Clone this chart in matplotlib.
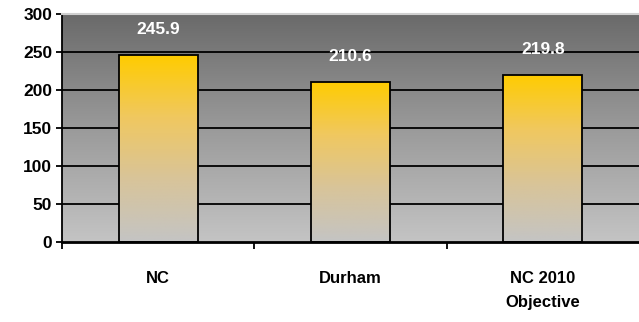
import numpy as np
import matplotlib.pyplot as plt
from matplotlib.colors import LinearSegmentedColormap

plt.rcParams['font.family'] = ['Liberation Sans', 'DejaVu Sans']
plt.rcParams['font.weight'] = 'bold'

# data
categories = ['NC', 'Durham', 'NC 2010\nObjective']
values = [245.9, 210.6, 219.8]
yticks = [0, 50, 100, 150, 200, 250, 300]

fig = plt.figure(figsize=(6.39, 3.22), dpi=100)
ax = fig.add_axes([0.097, 0.248, 0.903, 0.708])

x = np.arange(len(categories))
ax.set_xlim(-0.5, len(categories) - 0.5)
ax.set_ylim(0, 300)

# plot area gradient (dark top -> light bottom)
bg = LinearSegmentedColormap.from_list('bg', ['#c4c4c4', '#9a9a9a', '#6a6a6a'])
grad = np.linspace(0, 1, 256).reshape(-1, 1)
ax.imshow(grad, cmap=bg, aspect='auto', origin='lower',
          extent=[-0.5, len(categories) - 0.5, 0, 300], zorder=0)

# gridlines
for yv in yticks[1:-1]:
    ax.axhline(yv, color='black', lw=1.3, zorder=1)

# bars with gradient fill
bar_cmap = LinearSegmentedColormap.from_list('bar', ['#c4c4c4', '#d8c49a', '#f0c860', '#ffcc00'])
bars = ax.bar(x, values, width=0.41, facecolor='none', edgecolor='black', lw=1.3, zorder=3)
for b in bars:
    x0 = b.get_x()
    im = ax.imshow(grad, cmap=bar_cmap, aspect='auto', origin='lower',
                   extent=[x0, x0 + b.get_width(), 0, b.get_height()], zorder=2)
    im.set_clip_path(b)

# value labels
for xi, v in zip(x, values):
    ax.annotate(f'{v:.1f}', (xi, v), xytext=(0, 13), textcoords='offset points',
                ha='center', va='bottom', color='white', fontsize=12.5, fontweight='bold')

ax.set_yticks(yticks)
ax.set_yticklabels([str(t) for t in yticks], fontsize=12.5, fontweight='bold')
ax.tick_params(axis='y', direction='out', length=4, width=1.3, pad=3)

ax.set_xticks(x)
ax.set_xticklabels(categories, fontsize=12, fontweight='bold', linespacing=1.7)
ax.set_xticks([-0.5, 0.5, 1.5], minor=True)
ax.tick_params(axis='x', which='major', length=0, pad=21)
ax.tick_params(axis='x', which='minor', direction='out', length=5, width=1.3)

ax.spines['right'].set_visible(False)
ax.spines['top'].set_color('#d0d0d0')
ax.spines['top'].set_linewidth(1.5)
ax.spines['left'].set_linewidth(1.3)
ax.spines['bottom'].set_linewidth(2)

fig.savefig('out.png', dpi=100)
